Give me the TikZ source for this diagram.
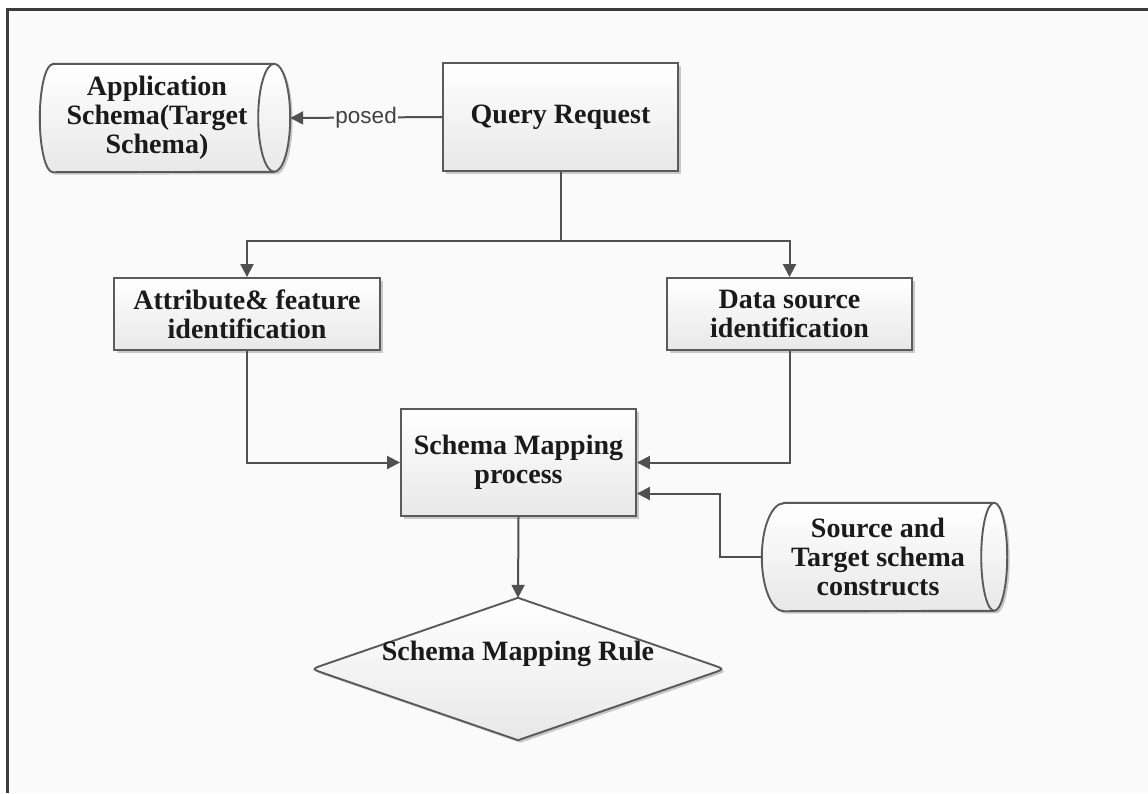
\documentclass[tikz,border=0pt]{standalone}
\usepackage{fontspec}
\setmainfont{Liberation Serif}
\newfontfamily\labelsans{Liberation Sans}
\usetikzlibrary{arrows.meta,calc,shadows}
\pgfdeclarelayer{canvas}
\pgfdeclarelayer{shapes}
\pgfsetlayers{canvas,shapes,main}

\definecolor{canvasbg}{HTML}{FAFAFA}
\definecolor{edgecol}{HTML}{5A5A5A}
\definecolor{linecol}{HTML}{505050}
\definecolor{txtcol}{HTML}{1A1A1A}
\definecolor{framecol}{HTML}{3C3C3C}

\tikzset{
  shapefill/.style={top color=white, bottom color=black!9, draw=edgecol, line width=1.9pt,
    drop shadow={shadow xshift=2.5pt, shadow yshift=-2.5pt, opacity=0.2, fill=black}},
  boldtext/.style={font=\fontsize{28}{29}\selectfont\bfseries, text=txtcol, align=center},
  procbox/.style={shapefill, rectangle, boldtext},
  holder/.style={rectangle, boldtext, inner sep=0pt},
  conn/.style={draw=linecol, line width=2pt},
  flow/.style={conn, -{Triangle[length=13pt,width=13pt]}},
  postlabel/.style={fill=canvasbg, inner sep=1.5pt, text=black!75,
    font=\labelsans\fontsize{22.5}{24}\selectfont}
}

\begin{document}
\begin{tikzpicture}[x=1pt,y=1pt]
\useasboundingbox (0,0) rectangle (1148,-793);

% page and frame
\begin{pgfonlayer}{canvas}
  \fill[white] (0,0) rectangle (1148,-793);
  \fill[canvasbg] (8,-10) rectangle (1148,-793);
  \draw[framecol, line width=2.2pt] (7.5,-793) -- (7.5,-9.5) -- (1148,-9.5);
\end{pgfonlayer}

% process boxes
\node[procbox, minimum width=235pt, minimum height=108pt] (qr) at (560.5,-117) {Query Request};
\node[procbox, minimum width=266pt, minimum height=72pt] (attr) at (247,-314) {Attribute\& feature\\identification};
\node[procbox, minimum width=245pt, minimum height=72pt] (data) at (789.5,-314) {Data source\\identification};
\node[procbox, minimum width=235pt, minimum height=107pt] (smp) at (518.5,-462.5) {Schema Mapping\\process};

% stored data (cylinders) and decision
\node[holder, minimum width=234pt, minimum height=108pt] (app) at (157,-118) {Application\\Schema(Target\\Schema)};
\node[holder, minimum width=232pt, minimum height=108pt] (src) at (878,-557) {Source and\\Target schema\\constructs};
\node[rectangle, inner sep=0pt, minimum width=412pt, minimum height=142pt] (rule) at (518,-669) {};
\node[holder] (ruletxt) at (518,-654) {Schema Mapping Rule};

\begin{pgfonlayer}{shapes}
  % application schema cylinder
  \path[shapefill] ($(app.north west)+(13,0)$) -- (app.north east)
    arc[start angle=90, end angle=-90, x radius=16pt, y radius=54pt]
    -- ($(app.south west)+(13,0)$)
    arc[start angle=270, end angle=90, x radius=13pt, y radius=54pt] -- cycle;
  \draw[draw=edgecol, line width=1.9pt] (app.north east)
    arc[start angle=90, end angle=270, x radius=16pt, y radius=54pt];
  % source/target schema cylinder
  \path[shapefill] ($(src.north west)+(22,0)$) -- (src.north east)
    arc[start angle=90, end angle=-90, x radius=13pt, y radius=54pt]
    -- ($(src.south west)+(22,0)$)
    arc[start angle=270, end angle=90, x radius=22pt, y radius=54pt] -- cycle;
  \draw[draw=edgecol, line width=1.9pt] (src.north east)
    arc[start angle=90, end angle=270, x radius=13pt, y radius=54pt];
  % decision diamond with rounded side corners
  \path[shapefill] (rule.north) -- ($(rule.east)+(-11.3,4)$)
    .. controls (rule.east) .. ($(rule.east)+(-11.3,-4)$)
    -- (rule.south) -- ($(rule.west)+(11.3,-4)$)
    .. controls (rule.west) .. ($(rule.west)+(11.3,4)$) -- cycle;
\end{pgfonlayer}

% connectors
\coordinate (appR) at ($(app.east)+(16,0)$);
\draw[flow] (qr.west) -- node[postlabel] {posed} (appR);
\coordinate (split) at ($(qr.south)+(0,-69)$);
\draw[conn] (qr.south) -- (split);
\draw[flow] (split) -| (attr.north);
\draw[flow] (split) -| (data.north);
\draw[flow] (attr.south) |- (smp.west);
\draw[flow] (data.south) |- (smp.east);
\draw[flow] (src.west) -- ++(-42,0) |- ([yshift=-31pt]smp.east);
\draw[flow] (smp.south) -- (rule.north);
\end{tikzpicture}
\end{document}
